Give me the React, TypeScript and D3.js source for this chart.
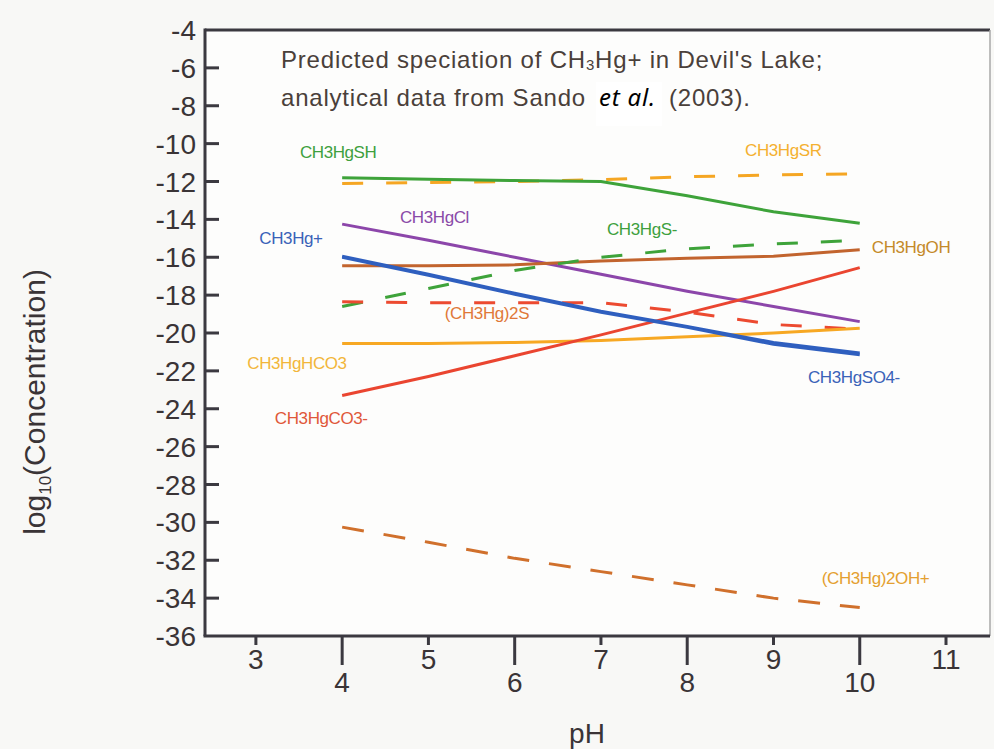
import React from 'react';
import * as d3 from 'd3';

const pH = [4, 5, 6, 7, 8, 9, 10];
const CH3HgSH = [-11.8, -11.88, -11.95, -12.0, -12.75, -13.6, -14.2];
const CH3HgSR = [-12.1, -12.05, -12.0, -11.9, -11.75, -11.65, -11.6];
const CH3HgCl = [-14.25, -15.1, -16.0, -16.9, -17.8, -18.6, -19.4];
const CH3HgPlus = [-15.95, -16.9, -17.9, -18.85, -19.65, -20.5, -21.05];
const CH3HgSO4 = [-16.0, -16.95, -17.95, -18.9, -19.7, -20.6, -21.15];
const CH3HgOH = [-16.45, -16.45, -16.4, -16.2, -16.05, -15.95, -15.6];
const CH3HgS = [-18.6, -17.65, -16.7, -16.0, -15.55, -15.3, -15.1];
const CH3Hg2S = [-18.35, -18.4, -18.4, -18.4, -18.9, -19.55, -19.8];
const CH3HgHCO3 = [-20.55, -20.55, -20.5, -20.4, -20.2, -20.0, -19.75];
const CH3HgCO3 = [-23.3, -22.3, -21.2, -20.1, -18.95, -17.8, -16.55];
const CH3Hg2OH = [-30.25, -31.05, -31.9, -32.6, -33.3, -34.0, -34.5];

const xTicks = [3, 4, 5, 6, 7, 8, 9, 10, 11];
const yTicks = [-4, -6, -8, -10, -12, -14, -16, -18, -20, -22, -24, -26, -28, -30, -32, -34, -36];

const series = [
  { name: 'CH3HgSR', values: CH3HgSR, color: '#f5a623', dash: '21,23' },
  { name: 'CH3HgSH', values: CH3HgSH, color: '#3ea33a', dash: null },
  { name: 'CH3HgCl', values: CH3HgCl, color: '#8c46aa', dash: null },
  { name: 'CH3HgOH', values: CH3HgOH, color: '#c2642e', dash: null },
  { name: 'CH3HgS-', values: CH3HgS, color: '#3ea33a', dash: '21,23' },
  { name: '(CH3Hg)2S', values: CH3Hg2S, color: '#ec4a30', dash: '21,23' },
  { name: 'CH3HgHCO3', values: CH3HgHCO3, color: '#f7a823', dash: null },
  { name: 'CH3HgCO3-', values: CH3HgCO3, color: '#ea4530', dash: null },
  { name: 'CH3Hg+', values: CH3HgPlus, color: '#2f5fbf', dash: null },
  { name: 'CH3HgSO4-', values: CH3HgSO4, color: '#2f5fbf', dash: null },
  { name: '(CH3Hg)2OH+', values: CH3Hg2OH, color: '#d0702c', dash: '22,20' },
];

const labels = [
  { text: 'CH3HgSH', color: '#3ea03e', x: 3.51, y: -10.44 },
  { text: 'CH3HgSR', color: '#f4b030', x: 8.67, y: -10.34 },
  { text: 'CH3HgCl', color: '#8a4aa8', x: 4.67, y: -13.87 },
  { text: 'CH3Hg+', color: '#3a62b8', x: 3.04, y: -14.98 },
  { text: 'CH3HgS-', color: '#3ea03e', x: 7.07, y: -14.5 },
  { text: 'CH3HgOH', color: '#c48a2a', x: 10.14, y: -15.46 },
  { text: '(CH3Hg)2S', color: '#e07838', x: 5.19, y: -18.94 },
  { text: 'CH3HgHCO3', color: '#f2b63a', x: 2.9, y: -21.58 },
  { text: 'CH3HgCO3-', color: '#e0583a', x: 3.22, y: -24.49 },
  { text: 'CH3HgSO4-', color: '#3a62b8', x: 9.4, y: -22.32 },
  { text: '(CH3Hg)2OH+', color: '#e4a030', x: 9.56, y: -32.93 },
];

export default function App() {
  const W = 994, H = 749;
  const left = 205, right = 990, top = 30, bottom = 636;
  const x = d3.scaleLinear().domain([2.41, 11.51]).range([left, right]);
  const y = d3.scaleLinear().domain([-36, -4]).range([bottom, top]);
  const line = d3.line<number>().x((_, i) => x(pH[i])).y((d) => y(d));
  const font = '"Liberation Sans", Arial, sans-serif';
  const axisColor = '#3b3940';
  const textColor = '#3a3436';
  const titleColor = '#4a403a';

  return (
    <svg width={W} height={H} style={{ position: 'absolute', left: 0, top: 0, background: '#f8f8f6' }}>
      <rect x={left} y={top} width={right - left} height={bottom - top} fill="#fdfdfc" />
      {/* frame */}
      <line x1={left} y1={top} x2={right} y2={top} stroke={axisColor} strokeWidth={3} />
      <line x1={right} y1={top} x2={right} y2={bottom} stroke="#a8a8a8" strokeWidth={1.5} />
      {/* series */}
      {series.map((s) => (
        <path key={s.name} d={line(s.values) || ''} fill="none" stroke={s.color}
          strokeWidth={3} strokeDasharray={s.dash || undefined} />
      ))}
      {/* labels */}
      {labels.map((l) => (
        <text key={l.text} x={x(l.x)} y={y(l.y)} dy="0.35em" fill={l.color}
          fontFamily={font} fontSize={17} letterSpacing={-0.4}>{l.text}</text>
      ))}
      {/* axes */}
      <line x1={left} y1={top - 1.5} x2={left} y2={bottom} stroke={axisColor} strokeWidth={3} />
      <line x1={left - 1.5} y1={bottom} x2={right} y2={bottom} stroke={axisColor} strokeWidth={3} />
      {yTicks.map((t) => (
        <g key={t}>
          {t !== -4 && t !== -36 && (
            <line x1={left} x2={left + 14} y1={y(t)} y2={y(t)} stroke={axisColor} strokeWidth={3} />
          )}
          <text x={left - 9} y={y(t)} dy="0.36em" textAnchor="end" fontFamily={font}
            fontSize={28} fill={textColor}>{t}</text>
        </g>
      ))}
      {xTicks.map((t) => {
        const even = t % 2 === 0;
        return (
          <g key={t}>
            <line x1={x(t)} x2={x(t)} y1={bottom} y2={bottom + (even ? 29 : 9)} stroke={axisColor} strokeWidth={3} />
            <text x={x(t)} y={even ? 682 : 659} dy="0.36em" textAnchor="middle" fontFamily={font}
              fontSize={28} fill={textColor}>{t}</text>
          </g>
        );
      })}
      <text x={587} y={733} dy="0.36em" textAnchor="middle" fontFamily={font} fontSize={28} fill={textColor}>pH</text>
      <text transform={`translate(34,${402}) rotate(-90)`} textAnchor="middle" dy="0.36em"
        fontFamily={font} fontSize={30} fill={textColor}>
        log<tspan fontSize={17} dy="6">10</tspan><tspan dy="-6">(Concentration)</tspan>
      </text>
      {/* title */}
      <text x={281} y={68} fontFamily={font} fontSize={24} letterSpacing={0.8} fill={titleColor}>
        Predicted speciation of CH<tspan fontSize={15} dy="2">3</tspan><tspan dy="-2">Hg+ in Devil's Lake;</tspan>
      </text>
      <text x={281} y={106} fontFamily={font} fontSize={24} letterSpacing={0.8} fill={titleColor}>
        analytical data from Sando
      </text>
      <rect x={596} y={82} width={66} height={44} fill="#ffffff" />
      <text x={599} y={106} fontFamily='"Noto Sans", "DejaVu Sans", sans-serif' fontStyle="italic"
        fontSize={24} letterSpacing={0.8} fill="#000">et al.</text>
      <text x={669} y={106} fontFamily={font} fontSize={24} letterSpacing={0.8} fill={titleColor}>(2003).</text>
    </svg>
  );
}
